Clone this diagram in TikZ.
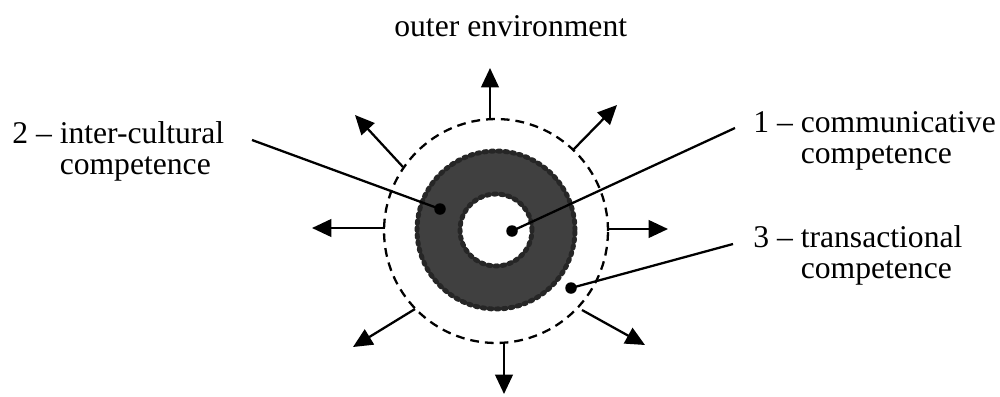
\documentclass[tikz,border=0pt]{standalone}
\usepackage{fontspec}
\setmainfont{Liberation Serif}
\usetikzlibrary{arrows.meta}
\begin{document}
\begin{tikzpicture}[x=0.02cm, y=-0.02cm, every node/.style={font=\fontsize{18}{18}\selectfont},
  outarrow/.style={line width=1.3pt, -{Triangle[length=11pt,width=10pt]}},
  pointer/.style={line width=1.3pt},
  dot/.style={circle, fill, inner sep=0pt, minimum size=0.23cm},
  lbl/.style={anchor=base west, inner sep=0pt}]
  \useasboundingbox (0,0) rectangle (1000,396);
  \coordinate (O) at (496,230);
  % ring of competences
  \fill[black!75, even odd rule] (O) circle (1.58cm) (O) circle (0.72cm);
  \draw[black!85, line width=2.8pt, line cap=round, dash pattern=on 1.5pt off 2.5pt] (O) circle (1.58cm);
  \draw[black!85, line width=2.8pt, line cap=round, dash pattern=on 1.5pt off 2.5pt] (O) circle (0.72cm);
  \draw[line width=1.3pt, dash pattern=on 5pt off 3.4pt] (496,231) circle (2.24cm);
  % arrows to the outer environment
  \foreach \i/\s/\t in {1/{490,119}/{490,68}, 2/{573,150}/{617,105}, 3/{608,229}/{668,229},
    4/{582,310}/{645,345}, 5/{504,343}/{504,394}, 6/{415,309}/{353,347},
    7/{385,228}/{312,228}, 8/{403,167}/{355,115}} {
    \coordinate (s\i) at (\s); \coordinate (t\i) at (\t);
    \draw[outarrow] (s\i) -- (t\i);
  }
  \node[dot] (d1) at (512,231) {};
  \node[dot] (d2) at (440,209) {};
  \node[dot] (d3) at (571,288) {};
  \coordinate (e1) at (735,128); \coordinate (e2) at (252,140);
  \coordinate (e3) at (733,244);
  \draw[pointer] (d1.center) -- (e1);
  \draw[pointer] (d2.center) -- (e2);
  \draw[pointer] (d3.center) -- (e3);
  \node[lbl] (env) at (394,36) {outer environment};
  \node[lbl] (comm) at (753,132) {1 -- \begin{tabular}[t]{@{}l@{}}communicative\\competence\end{tabular}};
  \node[lbl] (cult) at (12,143) {2 -- \begin{tabular}[t]{@{}l@{}}inter-cultural\\competence\end{tabular}};
  \node[lbl] (trans) at (753,247) {3 -- \begin{tabular}[t]{@{}l@{}}transactional\\competence\end{tabular}};
\end{tikzpicture}
\end{document}
